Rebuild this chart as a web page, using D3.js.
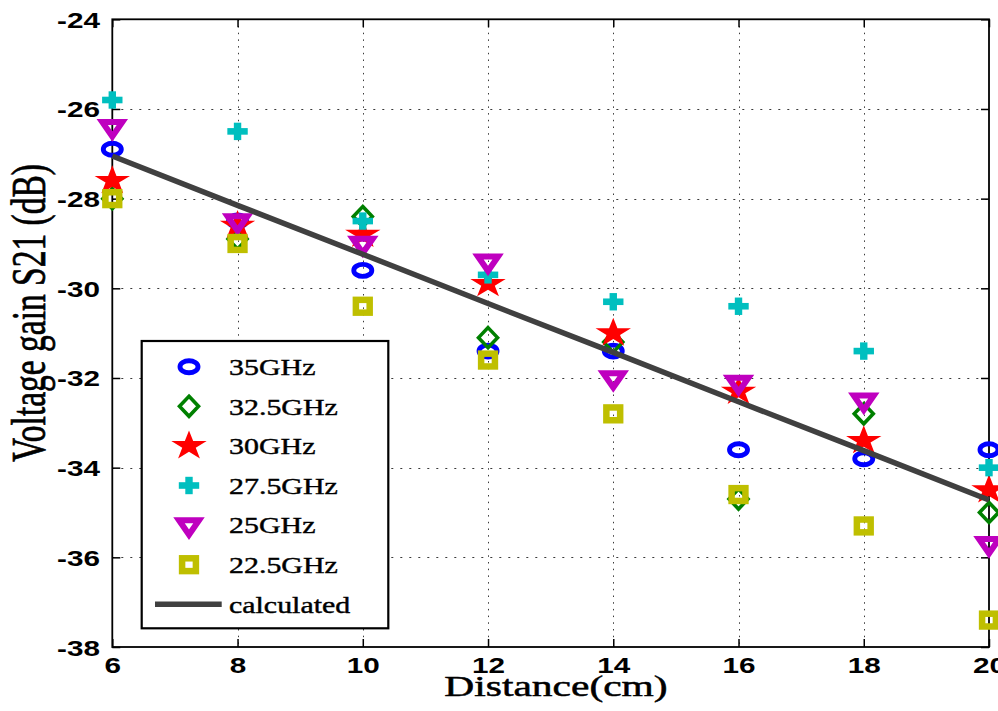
<!DOCTYPE html>
<html>
<head>
<meta charset="utf-8">
<script src="https://cdn.jsdelivr.net/npm/d3@7"></script>
<style>
html,body{margin:0;padding:0;background:#fff;}
svg{display:block;}
</style>
</head>
<body>
<script>
// ---------- data ----------
const distances = [6, 8, 10, 12, 14, 16, 18, 20];
const s35GHz   = [-26.9, -28.5, -29.6, -31.4, -31.4, -33.6, -33.8, -33.6];
const s32_5GHz = [-28.0, -28.9, -28.4, -31.1, -31.2, -34.7, -32.8, -35.0];
const s30GHz   = [-27.6, -28.6, -28.8, -29.9, -31.0, -32.3, -33.4, -34.5];
const s27_5GHz = [-25.8, -26.5, -28.5, -29.7, -30.3, -30.4, -31.4, -34.0];
const s25GHz   = [-26.4, -28.5, -29.0, -29.4, -32.0, -32.1, -32.5, -35.7];
const s22_5GHz = [-28.0, -29.0, -30.4, -31.6, -32.8, -34.6, -35.3, -37.4];
const calculated = [-27.05, -28.15, -29.24, -30.34, -31.43, -32.53, -33.62, -34.72];
const xTicks = [6, 8, 10, 12, 14, 16, 18, 20];
const yTicks = [-38, -36, -34, -32, -30, -28, -26, -24];
const seriesNames = ["35GHz", "32.5GHz", "30GHz", "27.5GHz", "25GHz", "22.5GHz"];
const seriesValues = [s35GHz, s32_5GHz, s30GHz, s27_5GHz, s25GHz, s22_5GHz];
const seriesColors = ["#0000ff", "#008000", "#ff0000", "#00bfbf", "#bf00bf", "#bfbf00"];
const seriesMarkers = ["circle", "diamond", "star", "plus", "triangle", "square"];
const calcName = "calculated";
const xTitle = "Distance(cm)";
const yTitle = "Voltage gain S21 (dB)";

// ---------- layout ----------
const W = 998, H = 711;
const L = 112.3, R = 989, T = 19.3, B = 647;
const sansFont = "'Liberation Sans', Arial, Helvetica, sans-serif";
const serifFont = "'Liberation Serif', 'Times New Roman', serif";

const svg = d3.select("body").append("svg").attr("width", W).attr("height", H);

const x = d3.scaleLinear().domain([6, 20]).range([L, R]);
const y = d3.scaleLinear().domain([-38, -24]).range([B, T]);

// grid
const grid = svg.append("g").attr("stroke", "#3a3a3a").attr("stroke-width", 1);
grid.selectAll("line.v").data(xTicks.slice(1, -1)).join("line")
  .attr("x1", d => Math.round(x(d)) + 0.5).attr("x2", d => Math.round(x(d)) + 0.5)
  .attr("y1", T).attr("y2", B).attr("stroke-dasharray", "1.5,5.2");
grid.selectAll("line.h").data(yTicks.slice(1, -1)).join("line")
  .attr("y1", d => Math.round(y(d)) + 0.5).attr("y2", d => Math.round(y(d)) + 0.5)
  .attr("x1", L).attr("x2", R).attr("stroke-dasharray", "2,7");

// axes
function styleAxis(g) {
  g.select(".domain").remove();
  g.selectAll(".tick line").attr("stroke", "#000").attr("stroke-width", 1.5);
  g.attr("font-family", sansFont).attr("font-size", 22).attr("font-weight", "bold");
  g.selectAll(".tick text").attr("fill", "#000");
}
const gLeft = svg.append("g").attr("transform", `translate(${L},0)`)
  .call(d3.axisLeft(y).tickValues(yTicks).tickSize(-8).tickSizeOuter(0).tickFormat(d3.format("d")));
styleAxis(gLeft);
gLeft.selectAll(".tick text").attr("x", null).attr("dy", null)
  .attr("transform", "translate(-12.3,8) scale(1.35,1)").text(d => d);

const gRight = svg.append("g").attr("transform", `translate(${R},0)`)
  .call(d3.axisRight(y).tickValues(yTicks).tickSize(-8).tickSizeOuter(0).tickFormat(""));
styleAxis(gRight);

const gBottom = svg.append("g").attr("transform", `translate(0,${B})`)
  .call(d3.axisBottom(x).tickValues(xTicks).tickSize(-8).tickSizeOuter(0).tickFormat(d3.format("d")));
styleAxis(gBottom);
gBottom.selectAll(".tick text").attr("y", null).attr("dy", null)
  .attr("transform", "translate(0,26) scale(1.35,1)");

const gTop = svg.append("g").attr("transform", `translate(0,${T})`)
  .call(d3.axisTop(x).tickValues(xTicks).tickSize(-8).tickSizeOuter(0).tickFormat(""));
styleAxis(gTop);

// frame
svg.append("rect").attr("x", L).attr("y", T).attr("width", R - L).attr("height", B - T)
  .attr("fill", "none").attr("stroke", "#000").attr("stroke-width", 1.8);

// markers
function starPath(Ro, sx) {
  const ri = Ro * 0.382;
  const pts = [];
  for (let i = 0; i < 10; i++) {
    const r = i % 2 === 0 ? Ro : ri;
    const a = -Math.PI / 2 + i * Math.PI / 5;
    pts.push([r * Math.cos(a) * sx, r * Math.sin(a)]);
  }
  return "M" + pts.map(p => p[0].toFixed(2) + "," + p[1].toFixed(2)).join("L") + "Z";
}
function drawMarker(g, type, color) {
  switch (type) {
    case "circle":
      g.append("ellipse").attr("rx", 6 * 1.5).attr("ry", 6)
        .attr("fill", "none").attr("stroke", color).attr("stroke-width", 4.9);
      break;
    case "diamond":
      g.append("path").attr("d", "M0,-10L9.5,0L0,10L-9.5,0Z")
        .attr("fill", "none").attr("stroke", color).attr("stroke-width", 3.6)
        .attr("stroke-linejoin", "miter");
      break;
    case "star":
      g.append("path").attr("d", starPath(15.5, 1.2)).attr("fill", color);
      break;
    case "plus":
      g.append("rect").attr("x", -10.2).attr("y", -3.3).attr("width", 20.4).attr("height", 6.6).attr("fill", color);
      g.append("rect").attr("x", -3.7).attr("y", -8.7).attr("width", 7.4).attr("height", 17.4).attr("fill", color);
      break;
    case "triangle":
      g.append("path").attr("d", "M-10,-4.8L10,-4.8L0,9.6Z")
        .attr("fill", "none").attr("stroke", color).attr("stroke-width", 6)
        .attr("stroke-linejoin", "miter");
      break;
    case "square":
      g.append("rect").attr("x", -6.9).attr("y", -6.4).attr("width", 13.8).attr("height", 12.8)
        .attr("fill", "none").attr("stroke", color).attr("stroke-width", 6.5);
      break;
  }
}

const plot = svg.append("g");
seriesValues.forEach((vals, si) => {
  const pts = distances.map((d, i) => ({ d, v: vals[i] }));
  const gs = plot.append("g");
  gs.selectAll("g").data(pts).join("g")
    .attr("transform", p => `translate(${x(p.d)},${y(p.v)})`)
    .each(function () { drawMarker(d3.select(this), seriesMarkers[si], seriesColors[si]); });
});

// calculated line
const line = d3.line().x((d, i) => x(distances[i])).y(d => y(d));
svg.append("path").datum(calculated).attr("d", line)
  .attr("fill", "none").attr("stroke", "#404040").attr("stroke-width", 5.5);

// axis titles
svg.append("text").attr("transform", "translate(556,696) scale(1.43,1)")
  .attr("text-anchor", "middle").attr("font-family", serifFont).attr("font-weight", "normal")
  .attr("stroke", "#000").attr("stroke-width", 0.5)
  .attr("font-size", 29).attr("fill", "#000").text(xTitle);
svg.append("text").attr("transform", "translate(45,313) rotate(-90) scale(1,1.45)")
  .attr("text-anchor", "middle").attr("font-family", serifFont).attr("font-weight", "normal")
  .attr("stroke", "#000").attr("stroke-width", 0.5)
  .attr("font-size", 33.5).attr("fill", "#000").text(yTitle);

// legend
const lg = svg.append("g");
lg.append("rect").attr("x", 141.7).attr("y", 341).attr("width", 388.3 - 141.7).attr("height", 628.3 - 341)
  .attr("fill", "#fff").attr("stroke", "#000").attr("stroke-width", 2.2);
const rowY0 = 366.7, rowDy = 39.6;
const legendItems = seriesNames.concat([calcName]);
legendItems.forEach((name, i) => {
  const cy = rowY0 + i * rowDy;
  const g = lg.append("g").attr("transform", `translate(189,${cy})`);
  if (i < seriesNames.length) {
    drawMarker(g, seriesMarkers[i], seriesColors[i]);
  } else {
    g.append("line").attr("x1", -34).attr("x2", 32.7).attr("y1", 0).attr("y2", 0)
      .attr("stroke", "#404040").attr("stroke-width", 5.5);
  }
  lg.append("text").attr("transform", `translate(229,${cy + 8.3}) scale(1.33,1)`)
    .attr("font-family", serifFont).attr("font-weight", "normal").attr("font-size", 22.5)
    .attr("stroke", "#000").attr("stroke-width", 0.4)
    .attr("fill", "#000").text(name);
});
</script>
</body>
</html>
